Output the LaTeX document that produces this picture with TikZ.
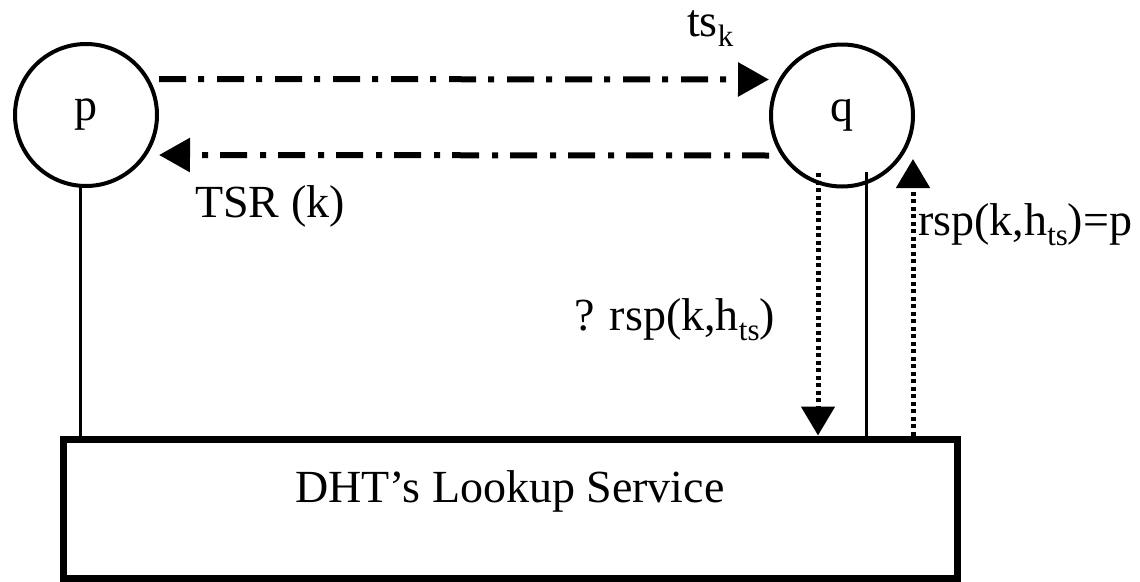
\documentclass[tikz,border=0pt]{standalone}
\usepackage{fontspec}
\setmainfont{Liberation Serif}
\usetikzlibrary{arrows.meta,calc}
\newcommand{\lowsub}[1]{\raisebox{-0.22em}{\fontsize{31}{31}\selectfont #1}}
\begin{document}
\begin{tikzpicture}[x=1pt,y=-1pt,
  bigfont/.style={font=\fontsize{46}{54}\selectfont},
  lbl/.style={bigfont, inner sep=0pt},
  proc/.style={circle, draw, line width=4pt, minimum size=142pt, inner sep=0pt, bigfont},
  svc/.style={draw, line width=7pt, minimum width=894pt, minimum height=139pt, inner sep=0pt, bigfont},
  msg/.style={line width=6pt, dash pattern=on 27pt off 12pt on 6pt off 13pt, -{Triangle[length=31pt,width=33pt]}},
  qry/.style={line width=5pt, dash pattern=on 4pt off 3.5pt, -{Triangle[length=29pt,width=33pt]}},
  link/.style={line width=3pt}]
\useasboundingbox (0,0) rectangle (1140,581);

\node[proc] (p) at (86,115) {p};
\node[proc] (q) at (842,115.5) {q};
\node[svc] (dht) at (510,508.5) {};
\node[lbl, anchor=base] (dhtlbl) at (510,502) {DHT’s Lookup Service};

% messages between p and q
\coordinate (a1s) at ($(p.east)+(0,-36)$);
\coordinate (a1e) at ($(q.west)+(0,-36)$);
\draw[msg] (a1s) -- (a1e);
\coordinate (a2s) at ($(q.west)+(0,40)$);
\coordinate (a2e) at ($(p.east)+(0,40)$);
\draw[msg] (a2s) -- (a2e);

% p to lookup service
\coordinate (pl) at ($(p.center)+(-6,71)$);
\draw[link] (pl) -- (pl |- dht.north);

% q to lookup service
\coordinate (qd) at ($(q.center)+(-24,57.5)$);
\draw[qry] (qd) -- (qd |- dht.north);
\coordinate (ql) at ($(q.center)+(24,56.5)$);
\draw[link] (ql) -- (ql |- dht.north);
\coordinate (qu) at ($(q.center)+(71,43.5)$);
\draw[qry] (qu |- dht.north) -- (qu);

% labels
\node[lbl, anchor=base west] (tsk) at (687,36) {ts\lowsub{k}};
\node[lbl, anchor=base west] (tsr) at (195,217) {TSR (k)};
\node[lbl, anchor=base west] (ask) at (574,330) {? rsp(k,h\lowsub{ts})};
\node[lbl, anchor=base west] (ans) at (918,235) {rsp(k,h\lowsub{ts})=p};
\end{tikzpicture}
\end{document}
